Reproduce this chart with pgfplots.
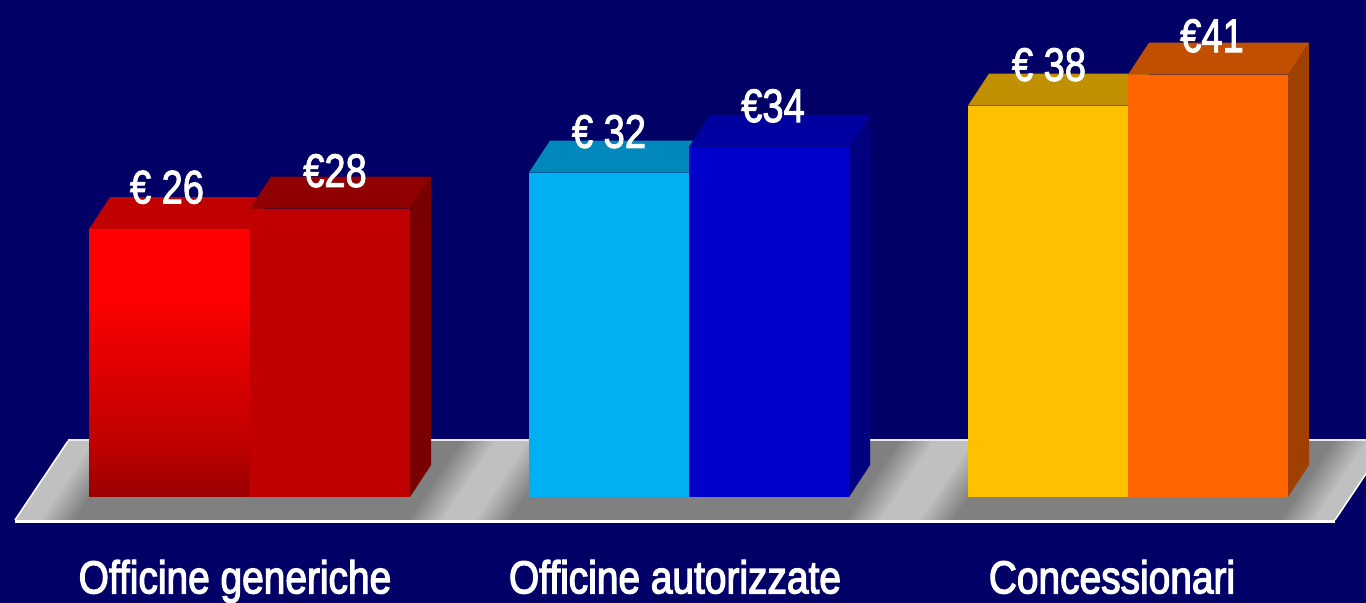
\documentclass[border=0pt]{standalone}
\usepackage{graphicx}
\usepackage{fontspec}
\setmainfont{Liberation Sans}
\newfontfamily\heavy[FakeBold=2.2]{Liberation Sans}
\newfontfamily\heavier[FakeBold=3]{Liberation Sans}
\usepackage{pgfplots}
\pgfplotsset{compat=1.18}
\definecolor{bgnavy}{RGB}{0,0,102}
\definecolor{floorgray}{RGB}{192,192,192}
\pgfdeclareverticalshading{redbar}{100bp}{%
  color(0bp)=(red!60!black); color(25bp)=(red!60!black);
  color(35bp)=(red!75!black); color(57bp)=(red!94!black);
  color(62bp)=(red); color(100bp)=(red)}
% one soft-edged dark stretch of the floor, given by its x at the front edge
\newcommand{\darkband}[2]{%
  \pgfplotsforeachungrouped \i in {0,...,14}{%
    \pgfmathsetmacro\off{17-2.4*\i}%
    \pgfmathsetmacro\xa{#1-\off}%
    \pgfmathsetmacro\xb{#2+\off}%
    \pgfmathsetmacro\xc{#2+\off+53}%
    \pgfmathsetmacro\xd{#1-\off+53}%
    \pgfmathsetmacro\g{(192-(\i+1)*4.27)/2.55}%
    \edef\tmp{\noexpand\addplot[fill=white!\g!black,draw=none,forget plot]
      coordinates {(\xa,-2.23) (\xb,-2.23) (\xc,5.44) (\xd,5.44)};}\tmp
  }}
\newcommand{\barlabel}[1]{\scalebox{.81}[1]{\fontsize{47}{50}\heavy #1}}
\newcommand{\catlabel}[1]{\scalebox{.845}[1]{\fontsize{46}{50}\heavier #1}}
\begin{document}
\begin{tikzpicture}
\begin{axis}[
  scale only axis,
  width=1366pt, height=603pt,
  xmin=0, xmax=1366,
  ymin=-10.29, ymax=48.25,
  axis lines=none,
  ticks=none,
  axis background/.style={fill=bgnavy},
  every axis plot/.append style={no marks,forget plot},
]
% floor
\addplot[fill=floorgray,draw=none] coordinates {(15,-2.23) (1335,-2.23) (1388,5.44) (68,5.44)};
\darkband{58}{425}
\darkband{493}{863}
\darkband{937}{1297}
\addplot[white,line width=3pt] coordinates {(15,-2.38) (1335,-2.38)};
\addplot[white,line width=1.5pt] coordinates {(15,-2.23) (68,5.44)};
\addplot[white,line width=1.5pt] coordinates {(1335,-2.23) (1388,5.44)};
\addplot[white!92!black,line width=2pt] coordinates {(68,5.5) (1388,5.5)};

% Officine generiche
\addplot[fill={rgb,255:red,192;green,0;blue,0},draw=none] coordinates {(89,26) (250,26) (271,29.1) (110,29.1)};
\addplot[ybar,bar width=161,bar shift=0pt,shade,shading=redbar,draw=none] coordinates {(169.5,26)};
\addplot[fill={rgb,255:red,120;green,0;blue,0},draw=none] coordinates {(410,0) (431,3.1) (431,31.1) (410,28)};
\addplot[fill={rgb,255:red,144;green,0;blue,0},draw=none] coordinates {(250,28) (410,28) (431,31.1) (271,31.1)};
\addplot[ybar,bar width=160,bar shift=0pt,fill={rgb,255:red,192;green,0;blue,0},draw=none] coordinates {(330,28)};

% Officine autorizzate (the first bar is drawn a little below its printed 32)
\addplot[fill={rgb,255:red,0;green,136;blue,187},draw=none] coordinates {(529,31.5) (689,31.5) (710,34.6) (550,34.6)};
\addplot[ybar,bar width=160,bar shift=0pt,fill={rgb,255:red,0;green,176;blue,240},draw=none] coordinates {(609,31.5)};
\addplot[fill={rgb,255:red,0;green,0;blue,128},draw=none] coordinates {(849,0) (870,3.1) (870,37.1) (849,34)};
\addplot[fill={rgb,255:red,0;green,0;blue,160},draw=none] coordinates {(689,34) (849,34) (870,37.1) (710,37.1)};
\addplot[ybar,bar width=160,bar shift=0pt,fill={rgb,255:red,0;green,0;blue,204},draw=none] coordinates {(769,34)};

% Concessionari
\addplot[fill={rgb,255:red,192;green,144;blue,0},draw=none] coordinates {(968,38) (1128,38) (1149,41.1) (989,41.1)};
\addplot[ybar,bar width=160,bar shift=0pt,fill={rgb,255:red,255;green,192;blue,0},draw=none] coordinates {(1048,38)};
\addplot[fill={rgb,255:red,160;green,64;blue,0},draw=none] coordinates {(1288,0) (1309,3.1) (1309,44.1) (1288,41)};
\addplot[fill={rgb,255:red,192;green,80;blue,0},draw=none] coordinates {(1128,41) (1288,41) (1309,44.1) (1149,44.1)};
\addplot[ybar,bar width=160,bar shift=0pt,fill={rgb,255:red,255;green,102;blue,0},draw=none] coordinates {(1208,41)};

% value labels
\node[white,anchor=base] at (axis cs:167,28.5) {\barlabel{€ 26}};
\node[white,anchor=base] at (axis cs:335,30.1) {\barlabel{€28}};
\node[white,anchor=base] at (axis cs:609,33.9) {\barlabel{€ 32}};
\node[white,anchor=base] at (axis cs:773,36.4) {\barlabel{€34}};
\node[white,anchor=base] at (axis cs:1049,40.4) {\barlabel{€ 38}};
\node[white,anchor=base] at (axis cs:1212,43.2) {\barlabel{€41}};

% category labels
\node[white,anchor=base,overlay] at (axis cs:235,-9.35) {\catlabel{Officine generiche}};
\node[white,anchor=base,overlay] at (axis cs:675,-9.35) {\catlabel{Officine autorizzate}};
\node[white,anchor=base,overlay] at (axis cs:1112,-9.35) {\catlabel{Concessionari}};
\end{axis}
\end{tikzpicture}
\end{document}
